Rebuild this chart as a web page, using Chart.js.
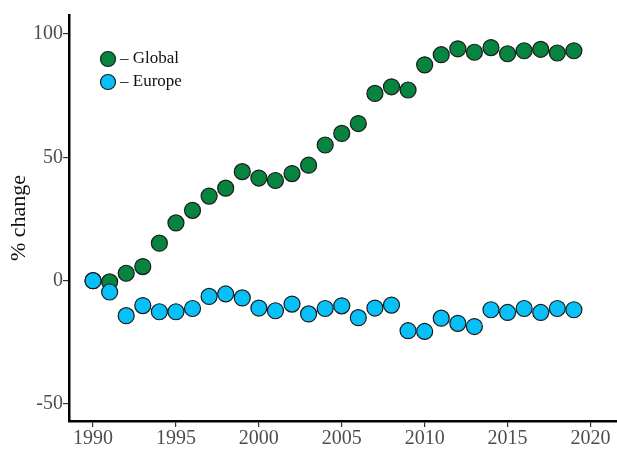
<!DOCTYPE html>
<html>
<head>
<meta charset="utf-8">
<script src="https://cdn.jsdelivr.net/npm/chart.js@4/dist/chart.umd.min.js"></script>
<style>
  html, body { margin: 0; padding: 0; background: #fff; overflow: hidden; }
  #wrap { position: relative; width: 617px; height: 449px; }
  canvas { display: block; }
</style>
</head>
<body>
<div id="wrap"><canvas id="chart"></canvas></div>
<script>
const years = [1990, 1991, 1992, 1993, 1994, 1995, 1996, 1997, 1998, 1999,
               2000, 2001, 2002, 2003, 2004, 2005, 2006, 2007, 2008, 2009,
               2010, 2011, 2012, 2013, 2014, 2015, 2016, 2017, 2018, 2019];
const globalChange = [0, -0.5, 3.0, 5.7, 15.2, 23.4, 28.5, 34.3, 37.5, 44.2,
                      41.6, 40.6, 43.4, 46.8, 55.0, 59.7, 63.7, 75.9, 78.6, 77.3,
                      87.5, 91.6, 94.0, 92.6, 94.5, 92.0, 93.2, 93.8, 92.3, 93.2];
const europeChange = [0, -4.6, -14.2, -10.1, -12.6, -12.6, -11.3, -6.4, -5.4, -7.0,
                      -11.1, -12.2, -9.5, -13.5, -11.3, -10.2, -15.0, -11.1, -9.9, -20.3,
                      -20.6, -15.2, -17.3, -18.6, -11.8, -12.9, -11.3, -12.9, -11.3, -11.8];
const xTicks = [1990, 1995, 2000, 2005, 2010, 2015, 2020];
const yTicks = [-50, 0, 50, 100];

const serif = "'Liberation Serif', 'DejaVu Serif', serif";

// legend drawn inside the plot, top left
const insideLegend = {
  id: "insideLegend",
  afterDraw(chart) {
    const ctx = chart.ctx;
    const x0 = 108, y0 = 59, gap = 23;
    chart.data.datasets.forEach((ds, i) => {
      const y = y0 + i * gap;
      ctx.save();
      ctx.beginPath();
      ctx.arc(x0, y, 7.5, 0, Math.PI * 2);
      ctx.fillStyle = ds.backgroundColor;
      ctx.fill();
      ctx.lineWidth = 1.2;
      ctx.strokeStyle = ds.borderColor;
      ctx.stroke();
      ctx.fillStyle = "#111";
      ctx.font = "17px " + serif;
      ctx.textBaseline = "middle";
      ctx.fillText("\u2013 " + ds.label, x0 + 12, y);
      ctx.restore();
    });
  }
};

const pts = (vals) => years.map((y, i) => ({ x: y, y: vals[i] }));

new Chart(document.getElementById("chart"), {
  type: "scatter",
  data: {
    datasets: [
      { label: "Global", data: pts(globalChange), backgroundColor: "#07843f", borderColor: "#1a1a1a",
        borderWidth: 1.2, pointRadius: 8, pointHoverRadius: 8, order: 2 },
      { label: "Europe", data: pts(europeChange), backgroundColor: "#08c0f8", borderColor: "#1a1a1a",
        borderWidth: 1.2, pointRadius: 8, pointHoverRadius: 8, order: 1 }
    ]
  },
  options: {
    responsive: true,
    maintainAspectRatio: false,
    animation: false,
    layout: { autoPadding: false, padding: { top: 15, right: 0, left: 0, bottom: 0 } },
    plugins: { legend: { display: false }, tooltip: { enabled: false } },
    scales: {
      x: {
        type: "linear",
        min: 1988.55,
        max: 2021.6,
        afterBuildTicks: (s) => { s.ticks = xTicks.map(v => ({ value: v })); },
        afterFit: (s) => { s.height = 28; s.paddingLeft = 0; s.paddingRight = 0; },
        grid: { drawOnChartArea: false, drawTicks: true, tickLength: 6, color: "#333", lineWidth: 1.2 },
        border: { display: true, color: "#000", width: 2.5 },
        ticks: { color: "#4d4d4d", font: { family: serif, size: 20 }, padding: 0, maxRotation: 0,
                 callback: (v) => String(v) }
      },
      y: {
        type: "linear",
        min: -56.9,
        max: 107.7,
        afterBuildTicks: (s) => { s.ticks = yTicks.map(v => ({ value: v })); },
        afterFit: (s) => { s.width = 69; s.paddingTop = 0; s.paddingBottom = 0; },
        grid: { drawOnChartArea: false, drawTicks: true, tickLength: 6, color: "#333", lineWidth: 1.2 },
        border: { display: true, color: "#000", width: 2.5 },
        ticks: { color: "#4d4d4d", font: { family: serif, size: 20 }, padding: 0 },
        title: { display: true, text: "% change", color: "#111", font: { family: serif, size: 22 },
                 padding: { top: 6, bottom: 0 } }
      }
    }
  },
  plugins: [insideLegend]
});
</script>
</body>
</html>
